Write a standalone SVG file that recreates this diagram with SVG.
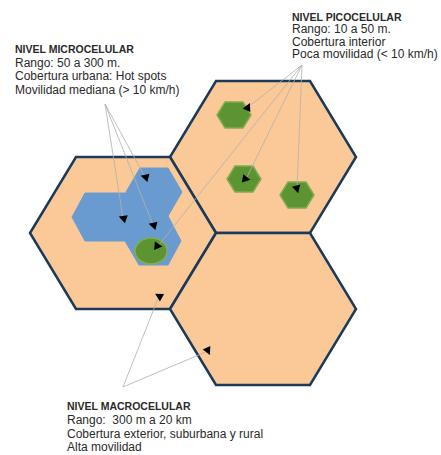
<svg xmlns="http://www.w3.org/2000/svg" xmlns:xlink="http://www.w3.org/1999/xlink" width="441" height="455" viewBox="0 0 441 455">
<style>
.macro{fill:#FBC998;stroke:#1B3A5A;stroke-width:2.5;stroke-linejoin:miter}
.micro{fill:#6A9BD0;stroke:#6A9BD0;stroke-width:1;stroke-linejoin:round}
.pico{fill:#5B9431;stroke:#84AC52;stroke-width:1.5}
.lead{stroke:#B0B0B0;stroke-width:0.8;fill:none}
.t{font-family:"Liberation Sans",Arial,sans-serif;font-size:12px;fill:#2a2a2a}
.h{font-weight:bold;font-size:10.5px}
</style>
<defs>
<path id="tri" d="M4.5,0 L-3.5,-4.2 L-3.5,4.2 Z" fill="#000"/>
</defs>
<rect width="441" height="455" fill="#fff"/>
<g id="macro-cells">
<g id="macro-pico"><polygon class="macro" points="216,81 310,81 356,157 310,233 216,233 170,157"/></g>
<g id="macro-micro"><polygon class="macro" points="76,157 170,157 216,233 170,309 76,309 30,233"/></g>
<g id="macro-bottom"><polygon class="macro" points="216,233 310,233 356,309 310,385 216,385 170,309"/></g>
</g>
<g id="micro-cells">
<g id="micro-top"><polygon class="micro" points="140,168 168,168 182,192 168,216 140,216 126,192"/></g>
<g id="micro-left"><polygon class="micro" points="72,217 85,193 127,193 140,217 127,241 85,241"/></g>
<g id="micro-bottom"><polygon class="micro" points="140,216 168,216 181,241 168,265 139,265 125,241"/></g>
</g>
<g id="pico-cells">
<g id="pico-circle"><ellipse class="pico" cx="151" cy="251" rx="16" ry="13" stroke="none"/></g>
<g id="pico-top"><polygon class="pico" points="225,102 243,102 251,115 243,128 225,128 217,115"/></g>
<g id="pico-mid"><polygon class="pico" points="235,166 253,166 261,179 253,192 235,192 227,179"/></g>
<g id="pico-right"><polygon class="pico" points="288,182 306,182 314,195 306,208 288,208 280,195"/></g>
</g>
<g id="connectors">
<line class="lead" x1="105" y1="104" x2="145" y2="177"/>
<line class="lead" x1="105" y1="104" x2="123" y2="218"/>
<line class="lead" x1="105" y1="104" x2="153" y2="225"/>
<line class="lead" x1="302" y1="65" x2="248" y2="107"/>
<line class="lead" x1="302" y1="65" x2="246" y2="179"/>
<line class="lead" x1="302" y1="65" x2="297" y2="189"/>
<line class="lead" x1="302" y1="65" x2="158" y2="246"/>
<line class="lead" x1="123" y1="387" x2="159" y2="296"/>
<line class="lead" x1="123" y1="387" x2="208" y2="351"/>
<use xlink:href="#tri" transform="translate(145,177) rotate(195)"/>
<use xlink:href="#tri" transform="translate(123,218) rotate(200)"/>
<use xlink:href="#tri" transform="translate(153,225) rotate(195)"/>
<use xlink:href="#tri" transform="translate(248,107) rotate(-65)"/>
<use xlink:href="#tri" transform="translate(246,179) rotate(10)"/>
<use xlink:href="#tri" transform="translate(297,189) rotate(75)"/>
<use xlink:href="#tri" transform="translate(158,246) rotate(5)"/>
<use xlink:href="#tri" transform="translate(159,296) rotate(210)"/>
<use xlink:href="#tri" transform="translate(208,351) rotate(65)"/>
</g>
<g id="label-micro" class="t">
<text class="t h" x="15" y="53">NIVEL MICROCELULAR</text>
<text class="t" x="15" y="66.5">Rango: 50 a 300 m.</text>
<text class="t" x="15" y="80">Cobertura urbana: Hot spots</text>
<text class="t" x="15" y="93.5">Movilidad mediana (&gt; 10 km/h)</text>
</g>
<g id="label-pico" class="t">
<text class="t h" x="292" y="20.5">NIVEL PICOCELULAR</text>
<text class="t" x="292" y="33">Rango: 10 a 50 m.</text>
<text class="t" x="292" y="45.5">Cobertura interior</text>
<text class="t" x="292" y="58">Poca movilidad (&lt; 10 km/h)</text>
</g>
<g id="label-macro" class="t">
<text class="t h" x="67" y="410">NIVEL MACROCELULAR</text>
<text class="t" x="67" y="424" style="white-space:pre">Rango:  300 m a 20 km</text>
<text class="t" x="67" y="437.5">Cobertura exterior, suburbana y rural</text>
<text class="t" x="67" y="451">Alta movilidad</text>
</g>
</svg>
